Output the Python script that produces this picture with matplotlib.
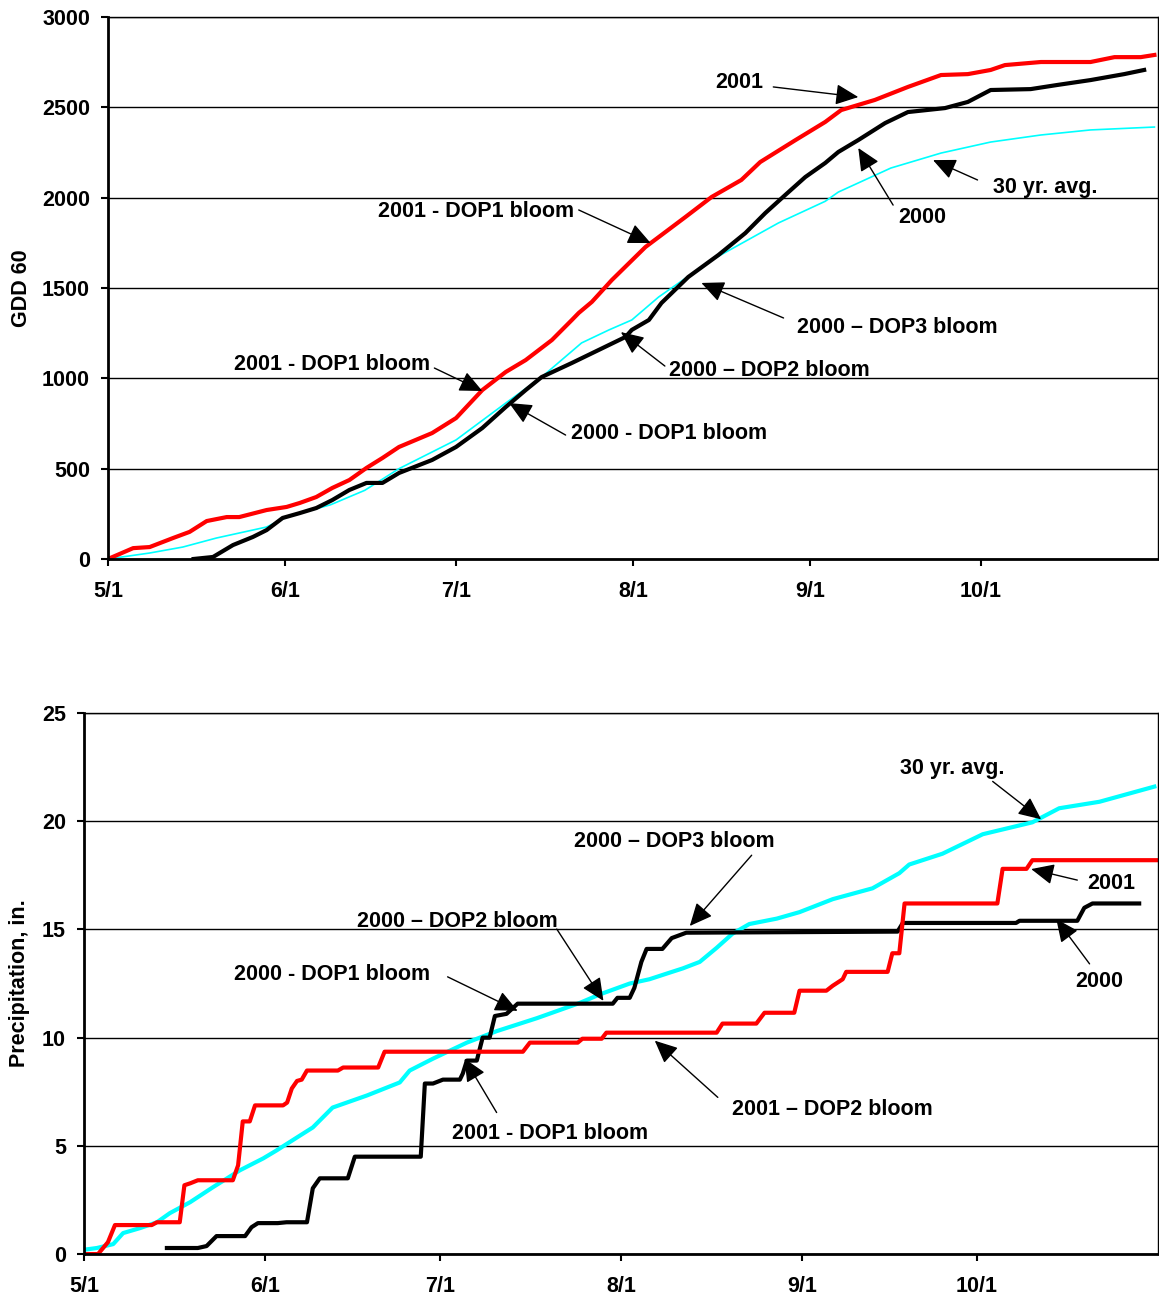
import matplotlib
matplotlib.use("Agg")
import matplotlib.pyplot as plt

plt.rcParams['font.family'] = ['Liberation Sans', 'DejaVu Sans']
plt.rcParams['font.weight'] = 'bold'

# x values are days after May 1
month_ticks = [0, 31, 61, 92, 123, 153]
month_labels = ["5/1", "6/1", "7/1", "8/1", "9/1", "10/1"]

# ---- GDD 60 (top panel) ----
gdd01_day = [0, 4.4, 7.3, 11.4, 14.3, 17.3, 20.8, 23, 27.8, 31.3, 33.6, 36.5, 39.3, 42.3, 45.3,
             48.1, 51, 56.8, 61, 65.6, 69.7, 73.2, 77.8, 81.3, 82.5, 84.8, 88.3, 94.2, 101.2,
             105.8, 111, 114.3, 120.5, 125.7, 128.5, 134.4, 140.2, 146, 150.7, 154.7, 157.2,
             163.5, 172.2, 176.4, 181, 183.4]
gdd01_val = [0, 60, 66, 116, 150, 210, 232, 232, 271, 288, 310, 343, 393, 437, 504,
             559, 620, 697, 780, 935, 1035, 1101, 1212, 1323, 1362, 1423, 1544, 1727, 1893,
             2004, 2098, 2197, 2319, 2419, 2485, 2541, 2613, 2679, 2684, 2707, 2734,
             2751, 2751, 2778, 2778, 2790]

gdd00_day = [15, 18.4, 21.9, 25.4, 27.8, 30.6, 33.6, 36.5, 39.3, 42.3, 45.3, 48.1, 51, 56.8,
             61, 65.6, 69.7, 73.2, 76, 81.3, 86, 90.7, 91.8, 94.8, 97, 101.7, 107, 111.7,
             115.2, 118.7, 122.2, 125.7, 128, 131.5, 136.2, 140.2, 146.7, 150.7, 154.7,
             161.7, 166.4, 172.2, 178.1, 181.6]
gdd00_val = [0, 11, 77, 122, 160, 227, 254, 282, 326, 382, 421, 421, 476, 548,
             620, 725, 841, 935, 1007, 1085, 1157, 1229, 1268, 1323, 1417, 1561, 1683, 1804,
             1915, 2015, 2114, 2192, 2253, 2319, 2413, 2474, 2496, 2530, 2596,
             2601, 2624, 2651, 2684, 2707]

gddavg_day = [0, 7.3, 13.1, 19, 27.8, 31.3, 39, 45, 51, 61, 69.7, 76, 83, 87.8, 91.8, 96.5,
              105.8, 117.5, 125.7, 128, 137.2, 146, 154.7, 163.5, 172.2, 183.4]
gddavg_val = [0, 33, 66, 116, 177, 232, 300, 380, 500, 659, 863, 1007, 1196, 1268, 1323, 1450,
              1655, 1860, 1980, 2031, 2164, 2247, 2308, 2347, 2375, 2391]

# ---- Precipitation (bottom panel) ----
pr01_day = [0, 2.4, 4.1, 5.3, 11.6, 12.5, 16.4, 17.2, 18.2, 19.5, 25.5, 26.4, 27.2, 28.4, 29.3,
            34.1, 34.8, 35.6, 36.5, 37.3, 38.2, 43.5, 44.4, 50.4, 51.5, 75.2, 76.4, 84.6, 85.4,
            88.7, 89.5, 108.4, 109.4, 115.2, 116.6, 121.7, 122.6, 127.2, 128.3, 130, 130.6,
            137.7, 138.5, 139.7, 140.6, 156.5, 157.4, 161.5, 162.5, 184]
pr01_val = [0, 0, 0.55, 1.34, 1.34, 1.47, 1.47, 3.18, 3.27, 3.41, 3.41, 4.1, 6.13, 6.13, 6.87,
            6.87, 7.0, 7.65, 8.0, 8.06, 8.48, 8.48, 8.62, 8.62, 9.35, 9.35, 9.77, 9.77, 9.95,
            9.95, 10.23, 10.23, 10.65, 10.65, 11.15, 11.15, 12.17, 12.17, 12.4, 12.7, 13.04,
            13.04, 13.9, 13.9, 16.2, 16.2, 17.8, 17.8, 18.2, 18.2]

pr00_day = [14.2, 19.5, 21, 22.7, 27.6, 28.7, 29.8, 33.2, 34.7, 38.2, 39.2, 40.4, 45.2, 46.4,
            57.7, 58.4, 59.8, 61.5, 64.4, 64.9, 65.6, 67.3, 68.3, 69.5, 70.4, 72.4, 74.3, 90.6,
            91.4, 93.5, 94.3, 95.5, 96.4, 99.1, 100.7, 103.2, 139.4, 140.3, 159.7, 160.3,
            170.2, 171.4, 172.8, 180.8]
pr00_val = [0.28, 0.28, 0.37, 0.83, 0.83, 1.24, 1.43, 1.43, 1.47, 1.47, 3.04, 3.5, 3.5, 4.5,
            4.5, 7.88, 7.88, 8.06, 8.06, 8.34, 8.94, 8.94, 10.0, 10.0, 11.0, 11.1, 11.57, 11.57,
            11.84, 11.84, 12.3, 13.5, 14.1, 14.1, 14.6, 14.85, 14.9, 15.3, 15.3, 15.4,
            15.4, 16.0, 16.2, 16.2]

pravg_day = [0, 2.2, 5, 6.7, 9.6, 12.5, 14.7, 18.2, 22.1, 26.7, 30.7, 33, 36.5, 39.2, 42.6,
             48.5, 54.1, 55.8, 59.8, 65.6, 70.7, 77.6, 84.9, 88.4, 93.5, 96.9, 100.3, 102.6,
             105.5, 108.4, 111.1, 114, 118.7, 122.6, 128.3, 135.1, 139.7, 141.4, 147.1, 154,
             162.5, 167.1, 174, 183.4]
pravg_val = [0.2, 0.28, 0.46, 0.97, 1.2, 1.47, 1.89, 2.4, 3.09, 3.87, 4.42, 4.79, 5.39, 5.85, 6.77,
             7.33, 7.93, 8.48, 9.03, 9.77, 10.3, 10.9, 11.6, 12.0, 12.5, 12.7, 13.0, 13.2,
             13.5, 14.15, 14.8, 15.25, 15.5, 15.8, 16.4, 16.9, 17.6, 18.0, 18.5, 19.4,
             19.95, 20.6, 20.9, 21.6]

# annotations: (label, text centre, arrow tail, arrow tip)
top_notes = [
    ("2001", (110.7, 2635), (116.6, 2613), (131.5, 2557)),
    ("30 yr. avg.", (164.2, 2059), (152.4, 2098), (144.6, 2208)),
    ("2000", (142.7, 1893), (137.6, 1959), (131.5, 2275)),
    ("2001 - DOP1 bloom", (64.5, 1921), (82.5, 1932), (95.1, 1749)),
    ("2000 \u2013 DOP3 bloom", (138.3, 1279), (118.4, 1334), (104.0, 1528)),
    ("2001 - DOP1 bloom", (39.3, 1079), (57.2, 1057), (65.6, 930)),
    ("2000 \u2013 DOP2 bloom", (115.9, 1041), (97.6, 1068), (89.9, 1256)),
    ("2000 - DOP1 bloom", (98.4, 697), (80.2, 686), (70.3, 863)),
]
bot_notes = [
    ("30 yr. avg.", (148.8, 22.44), (155.7, 21.84), (164.0, 20.09)),
    ("2000 \u2013 DOP3 bloom", (101.2, 19.08), (114.4, 18.43), (103.8, 15.16)),
    ("2001", (176.0, 17.1), (170.2, 17.28), (162.3, 17.79)),
    ("2000 \u2013 DOP2 bloom", (63.9, 15.39), (81.0, 15.02), (89.0, 11.7)),
    ("2000", (174.0, 12.58), (172.3, 13.41), (166.6, 15.48)),
    ("2000 - DOP1 bloom", (42.5, 12.9), (62.3, 12.81), (74.3, 11.24)),
    ("2001 \u2013 DOP2 bloom", (128.3, 6.68), (108.6, 7.24), (97.8, 9.86)),
    ("2001 - DOP1 bloom", (79.8, 5.58), (70.7, 6.54), (65.2, 9.03)),
]

fig = plt.figure(figsize=(11.59, 13.10), dpi=100)
ax1 = fig.add_axes([0.0932, 0.5733, 0.9058, 0.4137])
ax2 = fig.add_axes([0.0725, 0.0427, 0.9265, 0.4130])

FS = 15.5


def style_axes(ax, ymax, ystep, ylabel):
    ax.set_xlim(0, 184)
    ax.set_ylim(0, ymax)
    ax.set_yticks(range(0, ymax + 1, ystep))
    ax.set_xticks(month_ticks)
    ax.set_xticklabels(month_labels)
    ax.grid(axis='y', color='black', linewidth=1.0)
    ax.set_axisbelow(True)
    for s in ['left', 'bottom']:
        ax.spines[s].set_linewidth(2.0)
    for s in ['top', 'right']:
        ax.spines[s].set_linewidth(1.0)
    ax.tick_params(axis='x', direction='out', length=5, width=1.5, pad=11, labelsize=FS)
    ax.tick_params(axis='y', direction='out', length=5, width=1.5, pad=8, labelsize=FS)
    for lab in ax.get_xticklabels() + ax.get_yticklabels():
        lab.set_fontweight('bold')
    ax.set_ylabel(ylabel, fontsize=FS, fontweight='bold')


def add_notes(ax, notes):
    for label, txt, tail, tip in notes:
        ax.text(txt[0], txt[1], label, ha='center', va='center',
                fontsize=FS, fontweight='bold')
        ax.annotate('', xy=tip, xytext=tail,
                    arrowprops=dict(arrowstyle='-|>,head_length=0.7,head_width=0.32',
                                    mutation_scale=20, color='black', lw=1.0,
                                    shrinkA=0, shrinkB=0))


ax1.plot(gddavg_day, gddavg_val, color='#00FFFF', linewidth=1.2)
ax1.plot(gdd00_day, gdd00_val, color='black', linewidth=3.0)
ax1.plot(gdd01_day, gdd01_val, color='#FF0000', linewidth=3.0)
style_axes(ax1, 3000, 500, "GDD 60")
ax1.yaxis.set_label_coords(-0.072, 0.5)
add_notes(ax1, top_notes)

ax2.plot(pravg_day, pravg_val, color='#00FFFF', linewidth=3.0)
ax2.plot(pr00_day, pr00_val, color='black', linewidth=3.0)
ax2.plot(pr01_day, pr01_val, color='#FF0000', linewidth=3.0)
style_axes(ax2, 25, 5, "Precipitation, in.")
ax2.yaxis.set_label_coords(-0.05, 0.5)
add_notes(ax2, bot_notes)

fig.savefig("out.png", dpi=100)
